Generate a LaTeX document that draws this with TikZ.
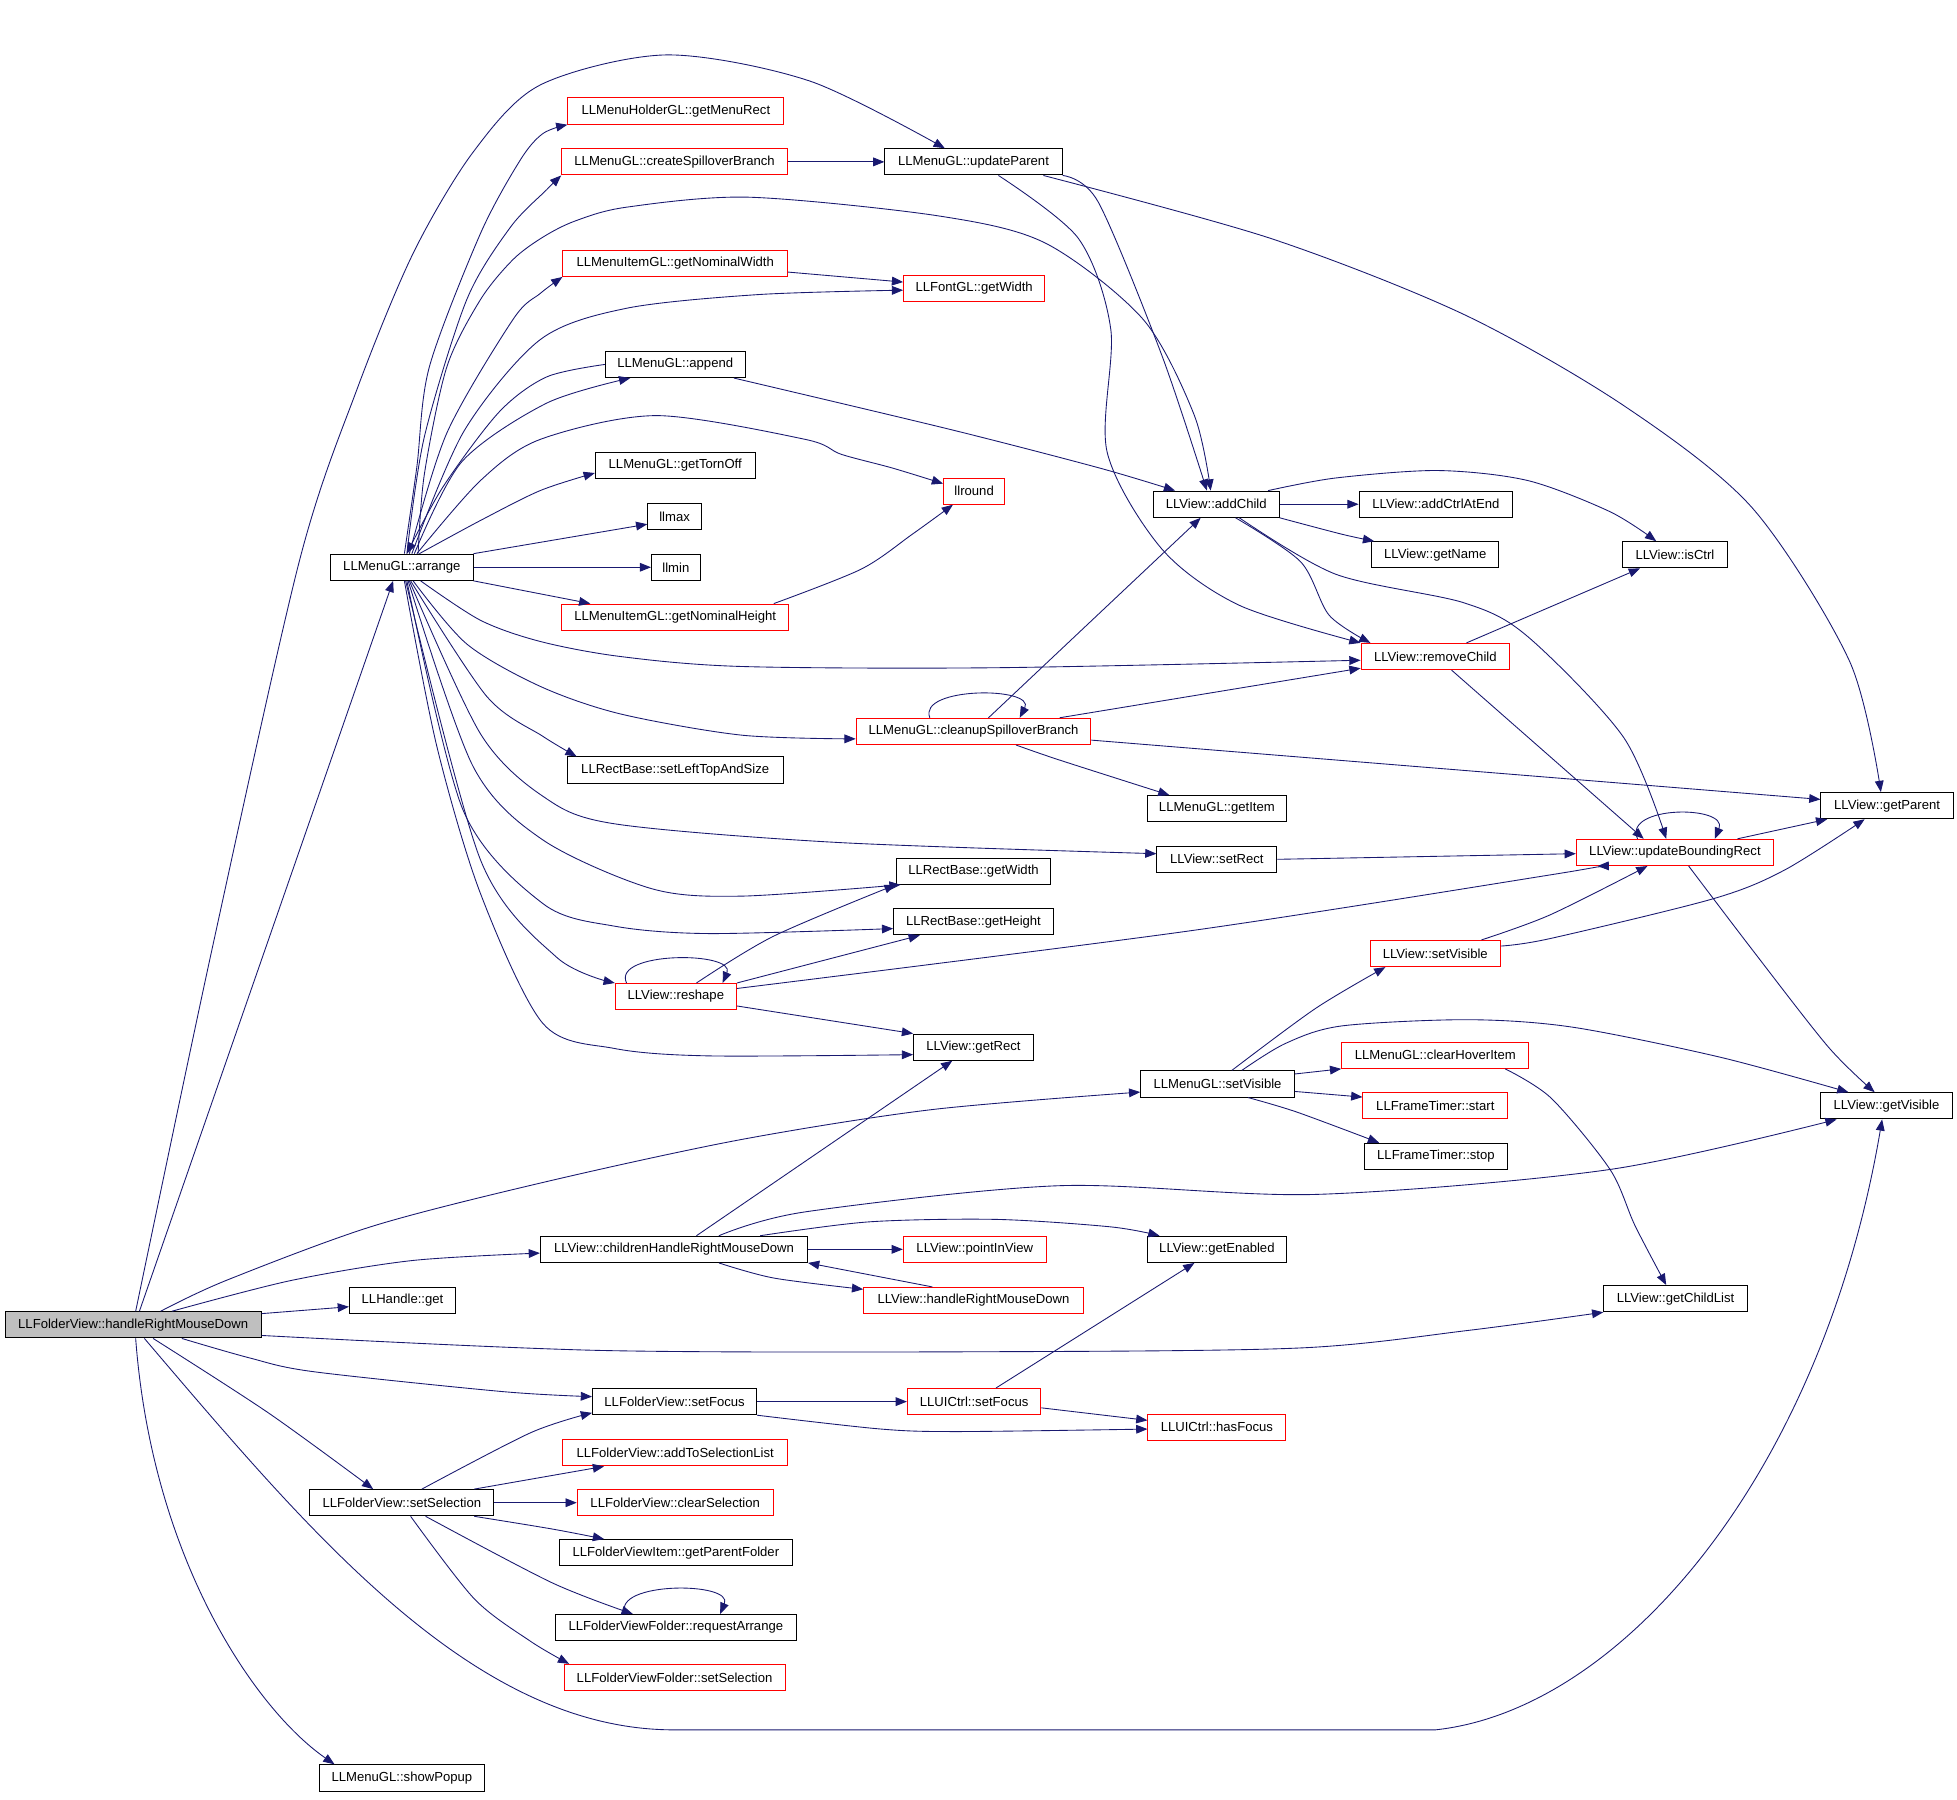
\documentclass[tikz,border=0pt]{standalone}
\usepackage{fontspec}
\setmainfont{Liberation Sans}
\usetikzlibrary{arrows.meta}
\definecolor{edgeblue}{RGB}{25,25,112}
\definecolor{nodered}{RGB}{255,0,0}
\definecolor{rootgray}{RGB}{191,191,191}
\begin{document}
\begin{tikzpicture}[x=1pt,y=-1pt,
  fn/.style={rectangle,draw=black,line width=0.8pt,inner sep=0pt,minimum height=21pt,font=\fontsize{10.5}{12}\selectfont},
  fr/.style={fn,draw=nodered},
  conn/.style={draw=edgeblue,line width=0.7pt,-{Triangle[length=9pt,width=7pt]}},
  sm/.style={smooth,tension=0.5}]
\fill[white] (0,0) rectangle (1568,1441.5);
\useasboundingbox (0,0) rectangle (1568,1441.5);
% nodes
\node[fn,fill=rootgray,minimum width=205pt] (H) at (106.7,1061.5) {LLFolderView::handleRightMouseDown};
\node[fn,minimum width=85pt] (get) at (322.5,1042) {LLHandle::get};
\node[fn,minimum width=114pt] (arrange) at (322,454.5) {LLMenuGL::arrange};
\node[fr,minimum width=173pt] (gMR) at (541.5,89) {LLMenuHolderGL::getMenuRect};
\node[fr,minimum width=181pt] (cSpB) at (540.5,129.7) {LLMenuGL::createSpilloverBranch};
\node[fn,minimum width=142pt] (uP) at (780,129.7) {LLMenuGL::updateParent};
\node[fr,minimum width=180pt] (gNW) at (541,211) {LLMenuItemGL::getNominalWidth};
\node[fr,minimum width=113pt] (fW) at (780.5,231) {LLFontGL::getWidth};
\node[fn,minimum width=112pt] (app) at (541,292) {LLMenuGL::append};
\node[fn,minimum width=128pt] (gTO) at (541,373) {LLMenuGL::getTornOff};
\node[fr,minimum width=49pt] (llround) at (780.5,393.5) {llround};
\node[fn,minimum width=43pt] (llmax) at (540.5,414) {llmax};
\node[fn,minimum width=39pt] (llmin) at (541.5,454.5) {llmin};
\node[fr,minimum width=182pt] (gNH) at (541,494.5) {LLMenuItemGL::getNominalHeight};
\node[fn,minimum width=101pt] (aC) at (974.5,404) {LLView::addChild};
\node[fn,minimum width=123pt] (aCE) at (1150.5,404) {LLView::addCtrlAtEnd};
\node[fn,minimum width=102pt] (gN) at (1150,444.5) {LLView::getName};
\node[fn,minimum width=84pt] (iC) at (1342,444.5) {LLView::isCtrl};
\node[fr,minimum width=119pt] (rC) at (1150,526) {LLView::removeChild};
\node[fr,minimum width=188pt] (cSB) at (780,586) {LLMenuGL::cleanupSpilloverBranch};
\node[fn,minimum width=173pt] (sLTS) at (541,617) {LLRectBase::setLeftTopAndSize};
\node[fn,minimum width=112pt] (gI) at (975,648) {LLMenuGL::getItem};
\node[fn,minimum width=106pt] (gP) at (1512,645.5) {LLView::getParent};
\node[fn,minimum width=96pt] (sR) at (975,688.5) {LLView::setRect};
\node[fr,minimum width=158pt] (uBR) at (1342,683) {LLView::updateBoundingRect};
\node[fn,minimum width=124pt] (rbW) at (780,698) {LLRectBase::getWidth};
\node[fn,minimum width=128pt] (rbH) at (780,738.5) {LLRectBase::getHeight};
\node[fr,minimum width=104pt] (vSV) at (1150,764) {LLView::setVisible};
\node[fr,minimum width=97pt] (rs) at (541.5,798.5) {LLView::reshape};
\node[fn,minimum width=96pt] (gR) at (780,839) {LLView::getRect};
\node[fr,minimum width=150pt] (cHI) at (1150,845.5) {LLMenuGL::clearHoverItem};
\node[fn,minimum width=123pt] (mSV) at (975.5,868.5) {LLMenuGL::setVisible};
\node[fr,minimum width=116pt] (fts) at (1150,886) {LLFrameTimer::start};
\node[fn,minimum width=105pt] (gV) at (1511.5,886) {LLView::getVisible};
\node[fn,minimum width=115pt] (ftp) at (1150.5,926.5) {LLFrameTimer::stop};
\node[fn,minimum width=214pt] (cH) at (540,1001) {LLView::childrenHandleRightMouseDown};
\node[fr,minimum width=114.5pt] (pIV) at (781,1001) {LLView::pointInView};
\node[fn,minimum width=111.5pt] (gE) at (975,1001) {LLView::getEnabled};
\node[fr,minimum width=176pt] (vH) at (780,1042) {LLView::handleRightMouseDown};
\node[fn,minimum width=115pt] (gCL) at (1342.5,1040.5) {LLView::getChildList};
\node[fn,minimum width=131.5pt] (fSF) at (540.5,1123) {LLFolderView::setFocus};
\node[fr,minimum width=107pt] (uSF) at (780.5,1123) {LLUICtrl::setFocus};
\node[fr,minimum width=110.5pt] (hF) at (975,1143.5) {LLUICtrl::hasFocus};
\node[fr,minimum width=180pt] (aTS) at (541,1164) {LLFolderView::addToSelectionList};
\node[fn,minimum width=147.5pt] (sS) at (322,1204) {LLFolderView::setSelection};
\node[fr,minimum width=157pt] (cS) at (541,1204) {LLFolderView::clearSelection};
\node[fn,minimum width=187pt] (gPF) at (541.5,1244) {LLFolderViewItem::getParentFolder};
\node[fn,minimum width=193.5pt] (rA) at (541.5,1304) {LLFolderViewFolder::requestArrange};
\node[fr,minimum width=177pt] (fvS) at (540.5,1344) {LLFolderViewFolder::setSelection};
\node[fn,minimum width=132.5pt] (sP) at (322,1424.5) {LLMenuGL::showPopup};
% edges from root
\draw[conn] ([xshift=5pt]H.north) -- ([xshift=-7pt]arrange.south);
\draw[conn] plot[sm] coordinates {([xshift=2pt]H.north) (170,760) (240,449) (286,312) (331,203) (379,122) (433,68) (534,44) (649,65) ([xshift=-23pt]uP.north)};
\draw[conn] plot[sm] coordinates {([xshift=16pt]H.south) (215,1132) ([xshift=-23pt]sS.north)};
\draw[conn] plot[sm] coordinates {([xshift=39pt]H.south) (200,1088) (251,1099) (403,1115) ([yshift=4pt]fSF.west)};
\draw[conn] plot[sm] coordinates {([xshift=31pt]H.north) (233,1026) (330,1010) ([yshift=-3pt]cH.west)};
\draw[conn] plot[sm] coordinates {([xshift=22pt]H.north) (181,1026) (300,982) (441,946) (594,913) (747,889) ([yshift=-6.5pt]mSV.west)};
\draw[conn] ([yshift=9pt]H.east) -- ([yshift=-5pt]get.west);
\draw[conn] plot[sm] coordinates {([yshift=-8.5pt]H.east) (481,1082) (800,1083) (1042,1080) (1176,1066) (gCL.south west)};
\draw[conn] ([xshift=9pt]H.south) .. controls (250,1230) and (380,1386) .. (540,1386) -- (1150,1386) .. controls (1300,1370) and (1460,1180) .. ([xshift=-3.5pt]gV.south);
\draw[conn] ([xshift=2pt]H.south) .. controls (122,1250) and (205,1370) .. ([xshift=-54pt]sP.north);
% edges from arrange
\draw[conn] plot[sm] coordinates {([xshift=2pt]arrange.north) (334,374) (344,294) (385,187) (417,128) (435,107) (gMR.south west)};
\draw[conn] plot[sm] coordinates {([xshift=4pt]arrange.north) (340,350) (374,240) (409,182) (438,152) (cSpB.south west)};
\draw[conn] plot[sm] coordinates {([xshift=6pt]arrange.north) (358,347) (411,256) (433,235) (gNW.south west)};
\draw[conn] plot[sm] coordinates {([xshift=8pt]arrange.north) (372,345) (433,272) (502,247) (608,236) ([yshift=-1.5pt]fW.west)};
\draw[conn] plot[sm] coordinates {(app.west) (438,302) (400,330) (355,390) ([xshift=4pt]arrange.north)};
\draw[conn] plot[sm] coordinates {([xshift=10pt]arrange.north) (370,370) (438,323) ([xshift=-36pt]app.south)};
\draw[conn] plot[sm] coordinates {([xshift=12pt]arrange.north) (385,385) (433,352) (526,333) (645,352) (674,364) (715,375) ([yshift=6pt]llround.west)};
\draw[conn] plot[sm] coordinates {([xshift=14pt]arrange.north) (385,417) (433,393) ([yshift=-6pt]gTO.west)};
\draw[conn] (arrange.north east) -- ([yshift=-6pt]llmax.west);
\draw[conn] (arrange.east) -- (llmin.west);
\draw[conn] (arrange.south east) -- ([xshift=-68pt]gNH.north);
\draw[conn] plot[sm] coordinates {([xshift=13pt]arrange.north) (340,380) (358,294) (385,240) (411,208) (435,190) (461,177) (502,166) (600,158) (752,173) (838,195) (916,256) (957,333) ([xshift=-4.5pt]aC.north)};
\draw[conn] plot[sm] coordinates {([xshift=15pt]arrange.south) (385,497) (433,514) (497,526) (594,534) (798,535) ([yshift=-3pt]rC.west)};
\draw[conn] plot[sm] coordinates {([xshift=9pt]arrange.south) (374,516) (433,550) (497,572) (594,589) ([yshift=-6pt]cSB.west)};
\draw[conn] plot[sm] coordinates {([xshift=7pt]arrange.south) (390,558) (435,590) ([xshift=-79pt]sLTS.north)};
\draw[conn] plot[sm] coordinates {([xshift=6pt]arrange.south) (385,588) (435,638) (492,660) (671,675) ([yshift=4.5pt]sR.west)};
\draw[conn] plot[sm] coordinates {([xshift=5pt]arrange.south) (379,614) (435,673) (522,712) (594,718) ([xshift=4pt]rbW.south west)};
\draw[conn] plot[sm] coordinates {([xshift=4pt]arrange.south) (371,649) (435,724) (492,742) (568,748) ([yshift=-5.5pt]rbH.west)};
\draw[conn] plot[sm] coordinates {([xshift=3pt]arrange.south) (385,689) (446,767) (rs.north west)};
\draw[conn] plot[sm] coordinates {([xshift=2pt]arrange.south) (350,598) (385,716) (435,820) (492,840) (568,846) ([yshift=-6pt]gR.west)};
% other edges
\draw[conn] (cSpB.east) -- (uP.west);
\draw[conn] ([yshift=-7pt]gNW.east) -- ([yshift=5pt]fW.west);
\draw[conn] plot[sm] coordinates {([xshift=79pt]gNH.north) (690,456) (731,428) ([xshift=-17pt]llround.south)};
\draw[conn] plot[sm] coordinates {([xshift=47pt]app.south) (761,344) (881,375) ([xshift=-33pt]aC.north)};
\draw[conn] plot[sm] coordinates {(uP.south east) (880,162) (931,285) ([xshift=-7.5pt]aC.north)};
\draw[conn] plot[sm] coordinates {([xshift=20pt]uP.south) (864,191) (890,264) (887,362) (931,440) (993,485) (rC.north west)};
\draw[conn] plot[sm] coordinates {([xshift=56pt]uP.south) (1018,191) (1173,252) (1301,325) (1404,407) (1482,530) ([xshift=-5pt]gP.north)};
\draw[conn] (aC.east) -- (aCE.west);
\draw[conn] plot[sm] coordinates {(aC.south east) (1075,428) ([xshift=-49pt]gN.north)};
\draw[conn] plot[sm] coordinates {([xshift=41.5pt]aC.north) (1070,383) (1152,377) (1224,385) (1290,410) ([xshift=-15pt]iC.north)};
\draw[conn] plot[sm] coordinates {([xshift=15.5pt]aC.south) (1042,450) (1065,493) ([xshift=-52pt]rC.north)};
\draw[conn] plot[sm] coordinates {([xshift=18.5pt]aC.south) (1070,460) (1173,483) (1224,510) (1301,591) ([xshift=-7pt]uBR.north)};
\draw[conn] ([xshift=25pt]rC.north) -- ([xshift=-28pt]iC.south);
\draw[conn] ([xshift=13pt]rC.south) -- ([xshift=-25pt]uBR.north);
\draw[conn] ([xshift=-35pt]cSB.north) .. controls (735,550) and (830,550) .. ([xshift=37pt]cSB.north);
\draw[conn] ([xshift=12pt]cSB.north) -- ([xshift=-12.5pt]aC.south);
\draw[conn] ([xshift=69pt]cSB.north) -- ([yshift=1.5pt]rC.south west);
\draw[conn] plot[sm] coordinates {([xshift=34pt]cSB.south) (849,609) ([xshift=-38pt]gI.north)};
\draw[conn] ([yshift=-7pt]cSB.east) -- ([yshift=5pt]gP.west);
\draw[conn] (sR.east) -- ([yshift=-1pt]uBR.west);
\draw[conn] ([xshift=-30pt]uBR.north) .. controls (1300,645) and (1385,645) .. ([xshift=32pt]uBR.north);
\draw[conn] ([xshift=50pt]uBR.north) -- ([xshift=-48pt]gP.south);
\draw[conn] plot[sm] coordinates {([xshift=11pt]uBR.south) (1404,761) (1465,839) ([xshift=-9.5pt]gV.north)};
\draw[conn] plot[sm] coordinates {([xshift=37pt]vSV.north) (1242,733) ([xshift=-22pt]uBR.south)};
\draw[conn] plot[sm] coordinates {([yshift=6pt]vSV.east) (1242,752) (1373,720) (1430,697) ([xshift=-18pt]gP.south)};
\draw[conn] ([xshift=-39.5pt]rs.north) .. controls (490,762) and (590,762) .. ([xshift=37.5pt]rs.north);
\draw[conn] plot[sm] coordinates {([xshift=16.5pt]rs.north) (620,750) (rbW.south west)};
\draw[conn] (rs.north east) -- ([xshift=-43pt]rbH.south);
\draw[conn] plot[sm] coordinates {([yshift=6.5pt]rs.east) (952,746) (1242,701) ([xshift=-62pt]uBR.south)};
\draw[conn] ([yshift=-7.5pt]rs.east) -- (gR.north west);
\draw[conn] plot[sm] coordinates {([xshift=11.5pt]mSV.north) (1054,808) ([xshift=-40pt]vSV.south)};
\draw[conn] ([yshift=8pt]mSV.east) -- (cHI.south west);
\draw[conn] ([yshift=-6pt]mSV.east) -- ([yshift=7pt]fts.west);
\draw[conn] plot[sm] coordinates {([xshift=24.5pt]mSV.south) (1039,891) ([xshift=-45.5pt]ftp.north)};
\draw[conn] plot[sm] coordinates {([xshift=19.5pt]mSV.north) (1030,836) (1075,822) (1176,817) (1260,823) (1378,847) ([xshift=-30.5pt]gV.north)};
\draw[conn] plot[sm] coordinates {([xshift=56pt]cHI.south) (1243,880) (1290,937) (1310,982) ([xshift=-7.5pt]gCL.north)};
\draw[conn] ([xshift=18pt]cH.north) -- ([xshift=-17pt]gR.south);
\draw[conn] plot[sm] coordinates {([xshift=36pt]cH.north) (645,971) (849,950) (1054,957) (1290,937) ([xshift=-40pt]gV.south)};
\draw[conn] plot[sm] coordinates {([xshift=69pt]cH.north) (696,979) (798,977) (890,983) ([xshift=-46pt]gE.north)};
\draw[conn] (cH.east) -- (pIV.west);
\draw[conn] plot[sm] coordinates {([xshift=36pt]cH.south) (620,1024) ([yshift=9pt]vH.west)};
\draw[conn] ([xshift=-33pt]vH.north) -- (cH.south east);
\draw[conn] ([xshift=17.5pt]uSF.north) -- ([xshift=-18pt]gE.south);
\draw[conn] (fSF.east) -- (uSF.west);
\draw[conn] plot[sm] coordinates {(fSF.south east) (706,1145) (768,1147) ([yshift=-1.5pt]hF.west)};
\draw[conn] ([yshift=-5pt]uSF.east) -- ([yshift=5.5pt]hF.west);
\draw[conn] plot[sm] coordinates {([xshift=16pt]sS.north) (425,1148) ([yshift=-9pt]fSF.west)};
\draw[conn] ([xshift=58pt]sS.north) -- ([xshift=-57pt]aTS.south);
\draw[conn] (sS.east) -- (cS.west);
\draw[conn] plot[sm] coordinates {([xshift=58pt]sS.south) (442,1225) ([xshift=-57.5pt]gPF.north)};
\draw[conn] plot[sm] coordinates {([xshift=19pt]sS.south) (442,1268) ([xshift=-34.5pt]rA.north)};
\draw[conn] plot[sm] coordinates {([xshift=7pt]sS.south) (380,1281) (425,1315) ([xshift=-84.5pt]fvS.north)};
\draw[conn] ([xshift=-40.5pt]rA.north) .. controls (490,1267) and (588,1267) .. ([xshift=35.5pt]rA.north);
\end{tikzpicture}
\end{document}
